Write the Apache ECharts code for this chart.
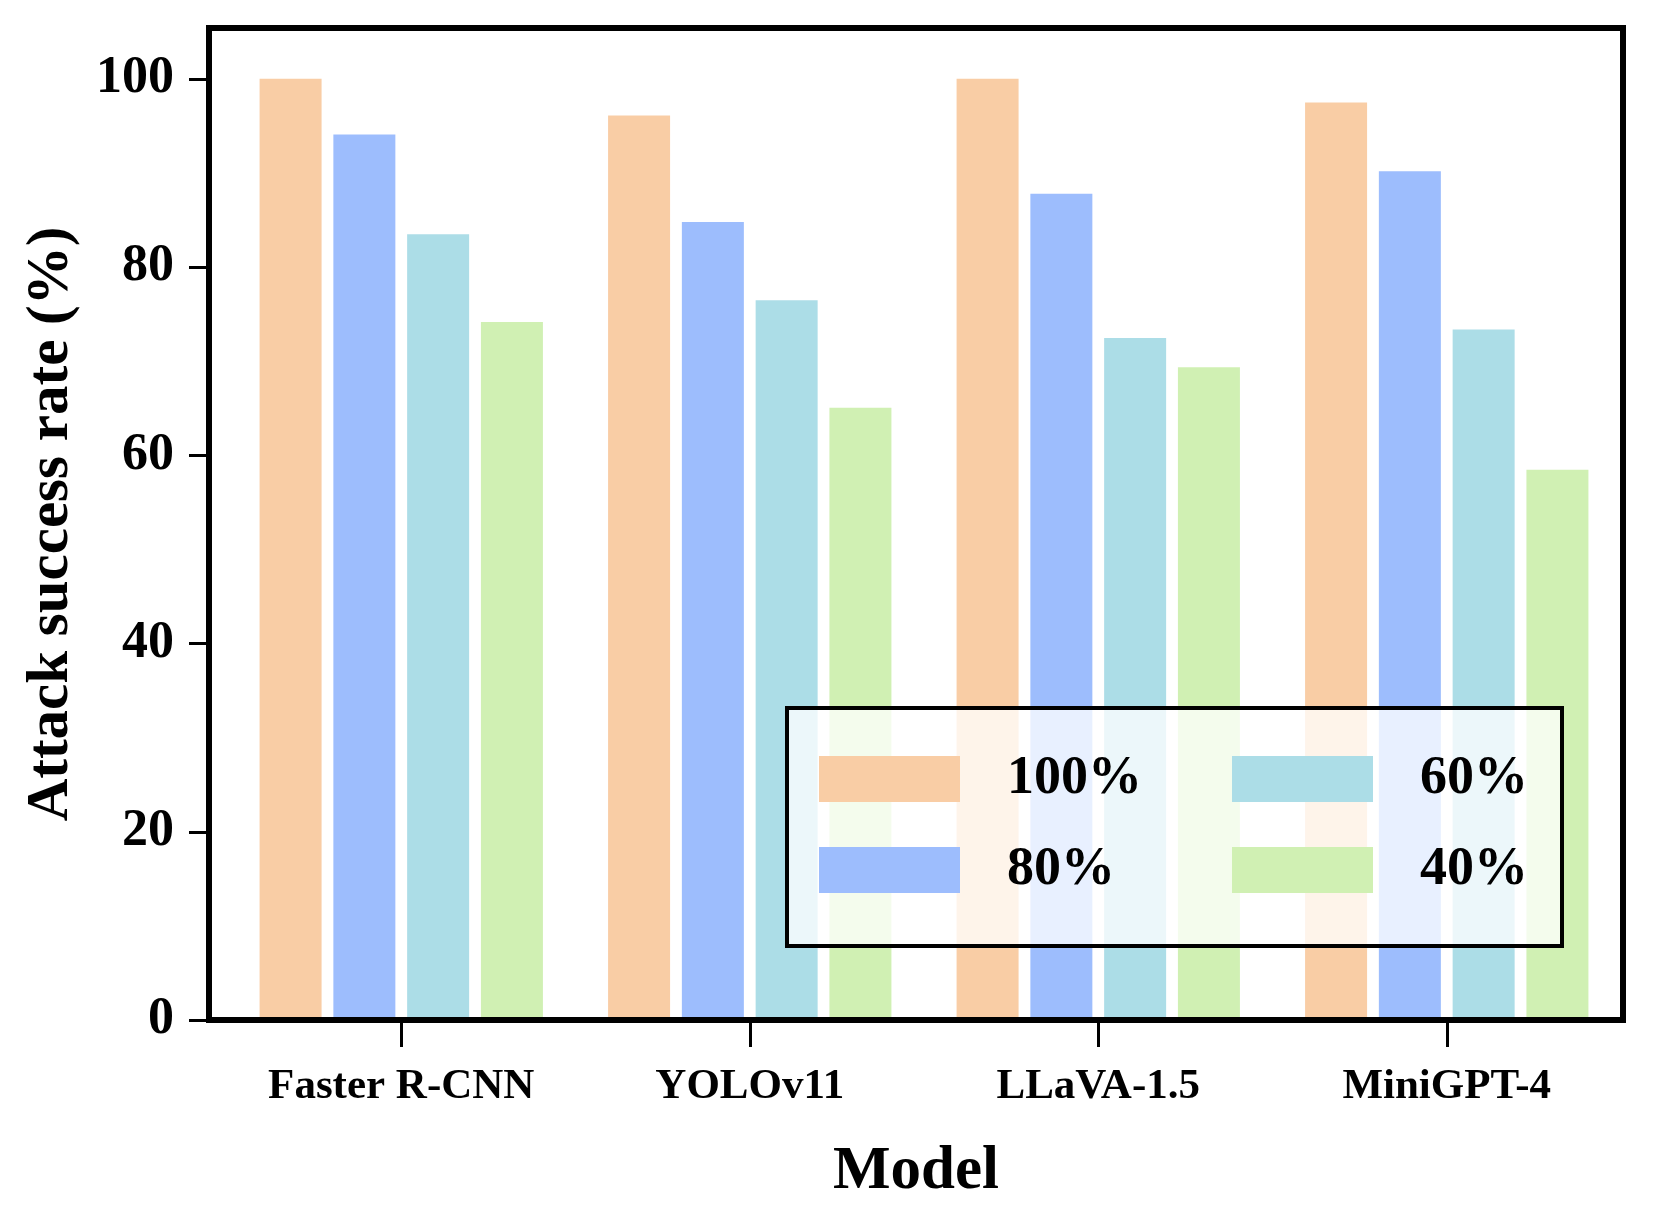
<!DOCTYPE html>
<html>
<head>
<meta charset="utf-8">
<script src="https://cdn.jsdelivr.net/npm/echarts@6/dist/echarts.min.js"></script>
<style>html,body{margin:0;padding:0;background:#fff}#c{width:1661px;height:1208px}</style>
</head>
<body>
<div id="c"></div>
<script>
const categories = ['Faster R-CNN', 'YOLOv11', 'LLaVA-1.5', 'MiniGPT-4'];
const seriesNames = ['100%', '80%', '60%', '40%'];
const rate100 = [100, 96.1, 100, 97.5];
const rate80 = [94.1, 84.8, 87.8, 90.2];
const rate60 = [83.5, 76.5, 72.5, 73.4];
const rate40 = [74.2, 65.1, 69.4, 58.5];
const yTicks = [0, 20, 40, 60, 80, 100];
const colors = ['#F9CDA5', '#9DBDFD', '#ACDDE7', '#D0F0B3'];

const FONT = "'Liberation Serif', 'Times New Roman', serif";
const Y_MAX = 105.4;
const seriesData = [rate100, rate80, rate60, rate40];

const frameLine = { show: true, onZero: false, lineStyle: { color: '#000', width: 6, cap: 'square' } };

const chart = echarts.init(document.getElementById('c'), null, { renderer: 'canvas' });
chart.setOption({
  animation: false,
  backgroundColor: '#fff',
  grid: [
    { left: 209, top: 28, width: 1414, height: 993 },
    { left: 227, top: 28, width: 1394, height: 993 }
  ],
  xAxis: [
    { gridIndex: 0, type: 'value', min: 0, max: 1, position: 'bottom', z: 6,
      axisLine: frameLine, axisTick: { show: false }, axisLabel: { show: false }, splitLine: { show: false },
      name: 'Model', nameLocation: 'middle', nameGap: 122,
      nameTextStyle: { fontFamily: FONT, fontWeight: 'bold', fontSize: 61, color: '#000' } },
    { gridIndex: 0, type: 'value', min: 0, max: 1, position: 'top', z: 6,
      axisLine: frameLine, axisTick: { show: false }, axisLabel: { show: false }, splitLine: { show: false } },
    { gridIndex: 1, type: 'category', data: categories, position: 'bottom',
      axisLine: { show: false, onZero: false },
      axisTick: { show: true, alignWithLabel: true, length: 26, lineStyle: { color: '#000', width: 3 } },
      axisLabel: { margin: 44, fontFamily: FONT, fontWeight: 'bold', fontSize: 43, color: '#000' },
      splitLine: { show: false } }
  ],
  yAxis: [
    { gridIndex: 0, type: 'value', min: 0, max: Y_MAX, interval: 20, position: 'left', z: 6,
      axisLine: frameLine,
      axisTick: { show: true, length: 20, customValues: yTicks, lineStyle: { color: '#000', width: 3 } },
      axisLabel: { margin: 35, customValues: yTicks, fontFamily: FONT, fontWeight: 'bold', fontSize: 52, color: '#000' },
      splitLine: { show: false },
      name: 'Attack success rate (%)', nameLocation: 'middle', nameGap: 128,
      nameTextStyle: { fontFamily: FONT, fontWeight: 'bold', fontSize: 59, color: '#000' } },
    { gridIndex: 0, type: 'value', min: 0, max: Y_MAX, position: 'right', z: 6,
      axisLine: frameLine, axisTick: { show: false }, axisLabel: { show: false }, splitLine: { show: false } },
    { gridIndex: 1, type: 'value', min: 0, max: Y_MAX, show: false, splitLine: { show: false } }
  ],
  legend: [
    { data: ['100%', '80%'], orient: 'vertical', left: 819, top: 752, padding: 0,
      itemWidth: 141, itemHeight: 46, itemGap: 37, icon: 'rect', selectedMode: false,
      textStyle: { fontFamily: FONT, fontWeight: 'bold', fontSize: 54, color: '#000', lineHeight: 46, padding: [0, 0, 0, 42] } },
    { data: ['60%', '40%'], orient: 'vertical', left: 1232, top: 752, padding: 0,
      itemWidth: 141, itemHeight: 46, itemGap: 37, icon: 'rect', selectedMode: false,
      textStyle: { fontFamily: FONT, fontWeight: 'bold', fontSize: 54, color: '#000', lineHeight: 46, padding: [0, 0, 0, 42] } }
  ],
  graphic: [
    { type: 'rect', z: 3, shape: { x: 787, y: 708, width: 775, height: 238 },
      style: { fill: 'rgba(255,255,255,0.77)', stroke: '#000', lineWidth: 4 } }
  ],
  series: seriesNames.map((name, i) => ({
    name: name,
    type: 'bar',
    xAxisIndex: 2,
    yAxisIndex: 2,
    data: seriesData[i],
    barWidth: 62,
    barGap: '19%',
    itemStyle: { color: colors[i] }
  }))
});
</script>
</body>
</html>
